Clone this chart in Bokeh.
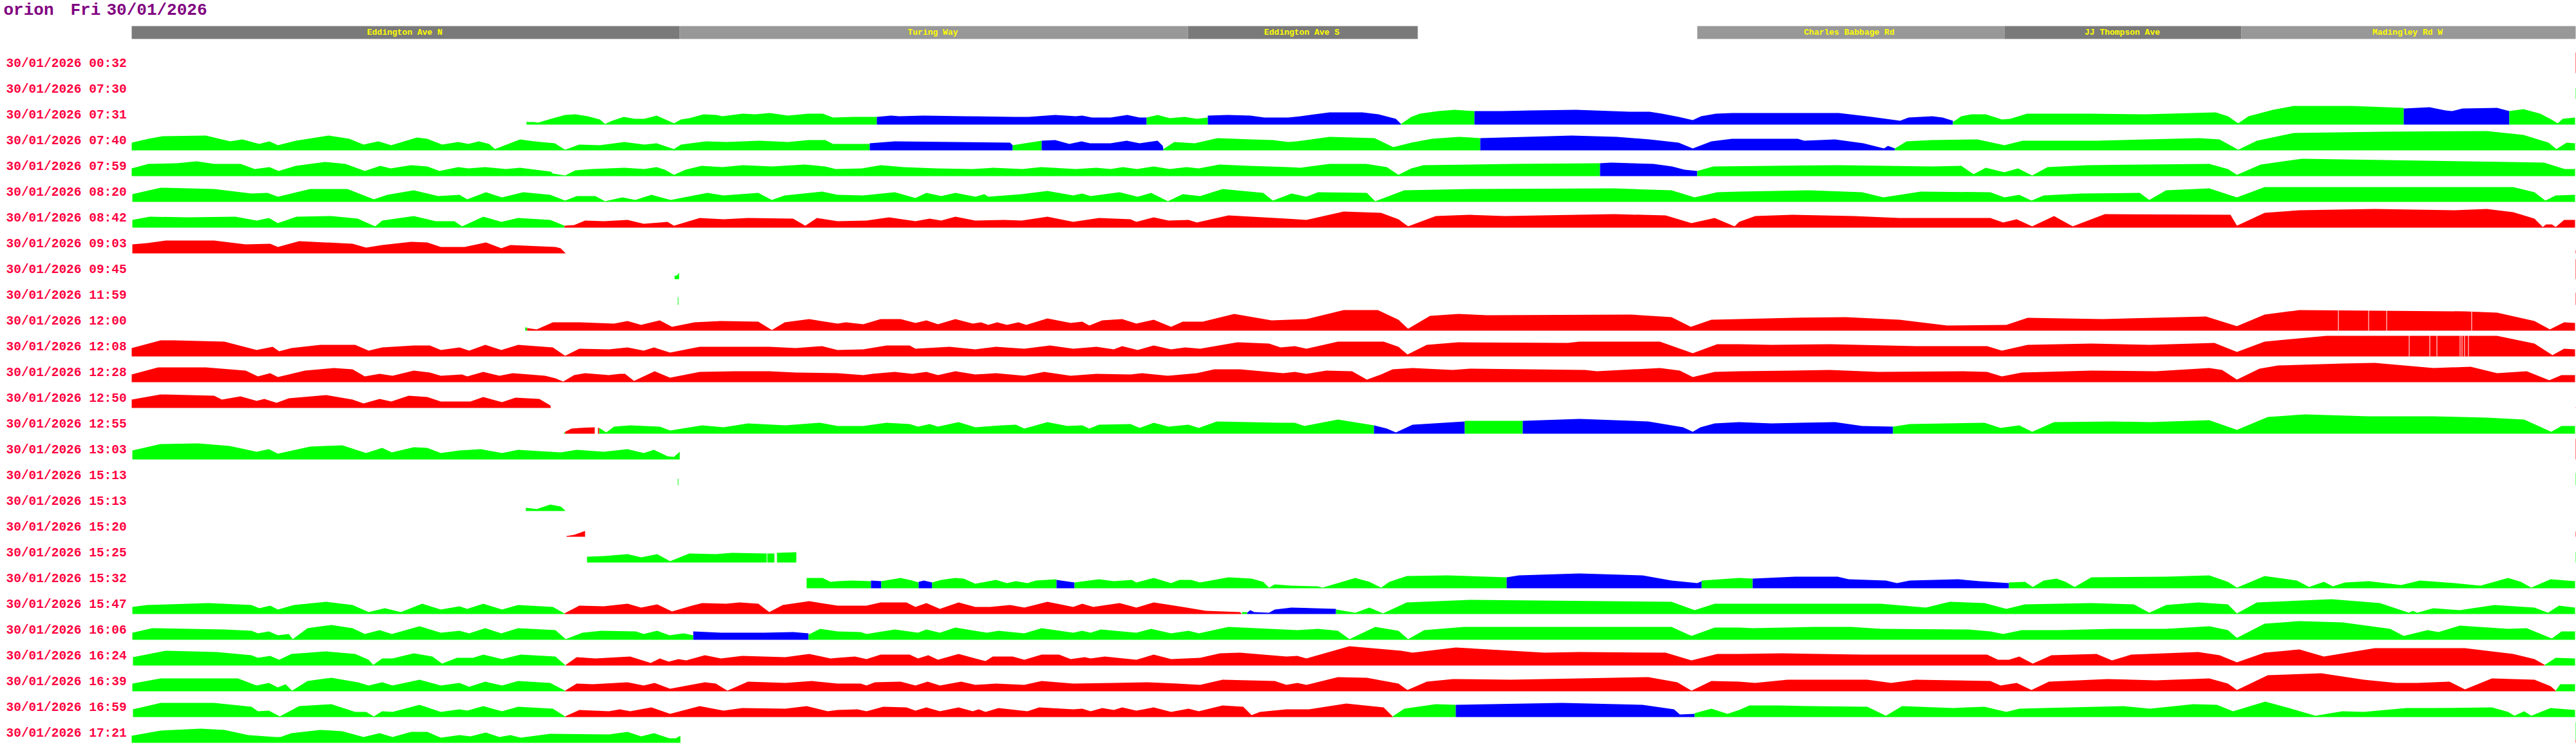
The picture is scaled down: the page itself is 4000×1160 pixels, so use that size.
from bokeh.plotting import figure
from bokeh.models import Range1d, ColumnDataSource
from bokeh.core.properties import value
from bokeh.embed import file_html
from bokeh.resources import INLINE

TITLE = [("orion", 5), ("Fri", 109), ("30/01/2026", 165)]

HEADER_BANDS = [
    (204, 1055, "d"), (1055, 1844, "l"), (1844, 2201, "d"),
    (2635, 3112, "l"), (3112, 3480, "d"), (3480, 3999, "l"),
]
HEADER_NAMES = [
    ("Eddington Ave N", 628), ("Turing Way", 1448), ("Eddington Ave S", 2021),
    ("Charles Babbage Rd", 2871), ("JJ Thompson Ave", 3295), ("Madingley Rd W", 3738),
]

G, R, B = "#00ff00", "#ff0000", "#0000ff"

ROW_0732 = [
    (G, [(817,4),(829,4),(835,3),(855,9),(877,15),(893,16),(912,13),(931,8),(939,1),(950,6),(968,12),(985,9),(1000,9),(1019,14),(1035,7),(1046,2),(1057,8),(1070,10),(1092,16),(1112,15),(1121,13),(1153,17),(1172,16),(1195,18),(1223,14),(1255,17),(1277,17),(1293,11),(1325,12),(1361,12)]),
    (B, [(1361,12),(1383,14),(1396,13),(1434,14),(1498,13),(1574,12),(1597,12),(1638,15),(1670,13),(1680,14),(1695,11),(1724,11),(1750,15),(1769,11),(1780,11)]),
    (G, [(1780,11),(1797,15),(1816,10),(1839,12),(1858,9),(1875,11)]),
    (B, [(1875,14),(1906,15),(1941,14),(1963,11),(2000,11),(2019,13),(2064,19),(2115,19),(2140,16),(2167,9),(2175,1)]),
    (G, [(2175,1),(2191,12),(2204,17),(2233,21),(2258,23),(2289,21)]),
    (B, [(2289,21),(2332,21),(2376,22),(2447,23),(2530,20),(2561,20),(2580,17),(2606,12),(2628,7),(2641,13),(2664,17),(2689,18),(2855,18),(2906,12),(2950,6),(2963,11),(3000,13),(3016,11),(3032,6)]),
    (G, [(3032,4),(3045,13),(3061,16),(3083,16),(3108,8),(3121,9),(3147,17),(3242,17),(3332,16),(3440,19),(3459,13),(3475,2),(3491,13),(3529,23),(3561,29),(3650,29),(3732,26)]),
    (B, [(3732,25),(3772,27),(3797,22),(3807,21),(3823,25),(3877,26),(3896,21)]),
    (G, [(3896,21),(3918,24),(3944,17),(3963,7),(3971,2),(3979,9),(3998,11)]),
]
ROW_0740 = [
    (G, [(204,12),(230,18),(252,22),(319,23),(357,14),(376,17),(402,10),(418,14),(431,8),(459,15),(510,23),(542,18),(564,9),(587,14),(607,8),(647,20),(663,18),(686,9),(711,13),(727,10),(743,14),(759,10),(768,2),(807,17),(829,14),(861,11),(877,1),(899,9),(931,8),(969,13),(1000,9),(1019,11),(1046,2),(1057,9),(1096,14),(1128,13),(1179,15),(1223,13),(1255,16),(1281,16),(1293,10),(1350,10)]),
    (B, [(1350,11),(1389,14),(1568,12),(1572,8)]),
    (G, [(1572,8),(1617,15)]),
    (B, [(1617,15),(1638,16),(1660,10),(1679,14),(1692,11),(1724,11),(1749,15),(1769,11),(1797,15),(1805,7),(1806,2)]),
    (G, [(1806,2),(1823,13),(1855,11),(1890,19),(1944,17),(1976,16),(2000,13),(2013,14),(2064,21),(2134,19),(2163,5),(2191,12),(2223,18),(2265,21),(2298,19)]),
    (B, [(2298,19),(2440,23),(2510,21),(2561,17),(2606,12),(2628,3),(2657,14),(2689,18),(2791,18),(2801,15),(2849,17),(2893,11),(2925,3),(2931,7),(2942,3)]),
    (G, [(2942,3),(2960,14),(3000,16),(3070,17),(3112,8),(3140,15),(3255,15),(3414,19),(3446,17),(3475,1),(3504,15),(3561,27),(3702,29),(3861,30),(3918,24),(3957,12),(3969,2),(3985,12),(3998,11)]),
]
ROW_0759 = [
    (G, [(204,12),(230,19),(274,20),(305,23),(332,19),(373,19),(395,11),(418,14),(432,8),(459,16),(504,22),(536,19),(566,8),(590,16),(606,12),(638,17),(663,15),(682,8),(711,14),(727,12),(753,14),(785,11),(807,13),(855,7),(858,4),(877,1),(893,9),(918,11),(969,13),(1000,11),(1019,14),(1032,10),(1046,2),(1064,10),(1089,16),(1121,14),(1153,17),(1198,15),(1249,18),(1281,15),(1297,11),(1338,12),(1367,17),(1402,14),(1453,12),(1510,11),(1542,13),(1587,11),(1616,14),(1670,11),(1702,13),(1724,11),(1743,14),(1765,11),(1791,15),(1816,11),(1842,14),(1861,12),(1893,18),(1938,16),(2000,14),(2019,13),(2064,19),(2121,19),(2153,14),(2171,2),(2191,12),(2210,17),(2351,19),(2484,20)]),
    (B, [(2484,20),(2501,21),(2567,19),(2596,15),(2615,10),(2635,8)]),
    (G, [(2635,8),(2660,15),(2752,16),(2855,17),(3000,15),(3045,16),(3064,3),(3083,13),(3112,6),(3133,12),(3155,1),(3179,14),(3242,17),(3332,18),(3430,19),(3459,11),(3473,2),(3510,18),(3574,27),(3893,22),(3950,21),(3982,11),(3998,11)]),
]
ROW_0820 = [
    (G, [(205,12),(249,22),(332,20),(390,13),(415,14),(431,8),(481,20),(539,20),(580,4),(601,11),(642,18),(680,9),(713,11),(725,4),(754,15),(779,7),(812,15),(854,11),(877,2),(895,9),(924,9),(939,1),(966,7),(986,3),(1011,11),(1041,3),(1098,14),(1123,10),(1177,14),(1198,3),(1218,10),(1276,16),(1300,11),(1340,10),(1389,15),(1421,6),(1438,14),(1461,9),(1483,14),(1514,8),(1528,12),(1534,8),(1586,12),(1626,17),(1666,10),(1680,13),(1693,9),(1738,15),(1766,8),(1787,14),(1813,1),(1836,12),(1863,9),(1898,20),(1961,14),(1976,2),(2005,13),(2028,8),(2046,15),(2122,14),(2135,1),(2180,18),(2282,20),(2506,21),(2595,18),(2631,7),(2666,15),(2700,16),(2808,18),(2891,15),(2924,7),(2982,16),(3090,15),(3112,7),(3135,11),(3154,2),(3173,10),(3231,13),(3322,14),(3337,3),(3363,18),(3430,21),(3473,7),(3516,23),(3902,23),(3935,15),(3952,2),(3968,10),(3998,11)]),
]
ROW_0842 = [
    (G, [(205,12),(232,17),(290,16),(365,17),(398,11),(417,15),(431,7),(460,17),(514,18),(555,14),(582,2),(593,11),(642,18),(676,10),(705,10),(717,2),(750,17),(778,9),(804,15),(854,12),(876,3)]),
    (R, [(876,3),(891,4),(908,11),(937,10),(974,12),(999,6),(1036,9),(1046,3),(1086,15),(1123,13),(1161,15),(1231,14),(1250,3),(1268,15),(1300,10),(1345,11),(1380,16),(1421,10),(1443,14),(1461,11),(1483,17),(1514,11),(1559,12),(1586,11),(1626,17),(1666,9),(1706,15),(1755,13),(1764,9),(1791,16),(1814,11),(1845,12),(1858,8),(1907,19),(1997,14),(2028,12),(2086,25),(2144,23),(2171,13),(2186,2),(2229,18),(2282,20),(2336,18),(2506,21),(2586,19),(2626,7),(2662,15),(2693,2),(2700,9),(2725,18),(2783,20),(2878,18),(2949,15),(3090,15),(3110,8),(3131,13),(3155,2),(3189,18),(3218,2),(3268,21),(3463,20),(3473,3),(3516,23),(3570,27),(3687,29),(3811,27),(3861,29),(3902,24),(3935,14),(3948,1),(3953,5),(3962,5),(3968,1),(3981,12),(3998,12)]),
]
ROW_0903 = [
    (R, [(205,14),(228,16),(257,20),(332,20),(381,14),(419,15),(431,10),(464,19),(547,15),(568,9),(593,13),(638,18),(663,17),(684,10),(721,10),(754,17),(778,8),(792,13),(862,10),(870,8),(878,0)]),
]
ROW_0945 = [(G, [(1047,5),(1051,6),(1054,10)])]
ROW_1159 = [(G, [(1052,12),(1053,12)])]
ROW_1200 = [
    (G, [(815,5),(818,5)]),
    (R, [(818,4),(833,2),(858,13),(900,13),(953,11),(974,15),(995,9),(1024,16),(1043,6),(1078,13),(1119,15),(1177,14),(1198,1),(1218,13),(1256,18),(1300,11),(1313,13),(1340,10),(1367,18),(1398,18),(1421,12),(1438,16),(1456,10),(1483,18),(1510,11),(1523,13),(1534,9),(1548,13),(1563,9),(1581,13),(1593,9),(1626,19),(1662,12),(1680,14),(1691,8),(1711,16),(1742,18),(1764,11),(1791,17),(1818,6),(1836,14),(1867,14),(1916,26),(1974,16),(2028,18),(2086,32),(2139,32),(2171,17),(2186,3),(2220,23),(2264,26),(2309,24),(2532,25),(2595,21),(2625,6),(2657,17),(2700,18),(2783,20),(2866,21),(2949,17),(3023,8),(3115,9),(3148,20),(3264,18),(3425,22),(3473,7),(3516,25),(3570,32),(3827,30),(3877,28),(3935,15),(3959,2),(3981,13),(3998,12)]),
]
ROW_1208 = [
    (R, [(204,13),(249,25),(269,25),(348,23),(398,10),(423,15),(433,8),(452,13),(497,18),(551,18),(572,9),(593,14),(642,17),(667,17),(684,10),(713,14),(728,9),(753,18),(778,10),(804,18),(858,14),(877,1),(899,12),(945,11),(974,14),(999,9),(1015,14),(1040,6),(1086,15),(1194,15),(1235,13),(1276,16),(1300,10),(1340,11),(1376,17),(1412,17),(1421,12),(1474,15),(1514,11),(1546,15),(1590,12),(1630,17),(1666,12),(1702,15),(1729,11),(1742,16),(1766,10),(1791,17),(1818,11),(1840,14),(1863,12),(1921,22),(1970,20),(1988,14),(2010,16),(2028,12),(2077,23),(2148,23),(2171,15),(2185,3),(2215,18),(2264,22),(2434,21),(2452,23),(2577,23),(2628,5),(2666,19),(2700,19),(2750,18),(2841,19),(2974,16),(3085,16),(3108,9),(3148,18),(3247,20),(3338,18),(3438,21),(3473,7),(3516,23),(3612,32),(3877,32),(3935,20),(3963,2),(3981,12),(3998,11)]),
]
ROW_1228 = [
    (R, [(204,12),(245,23),(319,23),(381,18),(400,9),(419,14),(431,8),(473,18),(518,22),(547,20),(566,9),(589,13),(609,10),(642,18),(667,15),(684,10),(717,12),(725,9),(750,16),(775,10),(796,14),(846,10),(862,6),(874,1),(891,11),(908,14),(945,11),(962,13),(970,13),(984,2),(1016,17),(1040,7),(1086,16),(1140,17),(1194,17),(1235,15),(1300,14),(1340,11),(1354,13),(1389,16),(1416,13),(1438,16),(1456,11),(1483,17),(1514,12),(1546,14),(1590,10),(1621,16),(1662,10),(1702,13),(1755,12),(1773,14),(1813,10),(1858,14),(1885,20),(1925,20),(1992,14),(2010,16),(2028,13),(2059,18),(2099,17),(2122,4),(2144,12),(2162,20),(2193,22),(2255,19),(2282,21),(2461,19),(2479,17),(2577,22),(2608,18),(2628,8),(2662,16),(2700,17),(2783,18),(2841,19),(2916,16),(3048,17),(3085,16),(3108,9),(3139,15),(3247,18),(3347,17),(3430,22),(3450,19),(3473,4),(3508,21),(3537,26),(3637,29),(3687,30),(3778,22),(3836,24),(3877,14),(3923,17),(3958,3),(3977,11),(3998,11)]),
]
ROW_1250 = [
    (R, [(204,13),(249,21),(332,19),(344,13),(373,18),(398,11),(410,14),(429,8),(448,15),(506,20),(547,13),(564,7),(589,14),(607,10),(634,19),(663,17),(684,10),(730,10),(750,17),(779,9),(800,16),(837,14),(854,4),(855,0)]),
]
ROW_1255 = [
    (G, [(875,1),(877,3)]),
    (R, [(877,3),(887,8),(900,9),(923,10)]),
    (R, [(928,9),(930,9)]),
    (G, [(930,9),(941,2),(953,11),(978,13),(1024,11),(1040,5),(1090,13),(1123,10),(1161,16),(1219,13),(1273,17),(1300,12),(1340,12),(1376,17),(1412,15),(1425,11),(1443,15),(1456,11),(1488,18),(1514,10),(1555,13),(1577,14),(1590,8),(1626,18),(1657,12),(1680,13),(1691,8),(1706,14),(1755,15),(1769,9),(1791,17),(1814,11),(1845,14),(1861,9),(1889,19),(1988,17),(2010,17),(2025,12),(2077,22),(2133,13)]),
    (B, [(2133,13),(2153,8),(2167,2),(2193,14),(2274,19)]),
    (G, [(2274,20),(2364,20)]),
    (B, [(2364,20),(2452,23),(2559,19),(2613,10),(2628,3),(2640,10),(2662,16),(2700,18),(2750,16),(2849,18),(2891,12),(2939,11)]),
    (G, [(2939,11),(2965,15),(3081,17),(3106,9),(3135,13),(3155,3),(3189,18),(3280,19),(3338,18),(3430,21),(3473,6),(3521,26),(3579,30),(3678,27),(3778,27),(3861,25),(3919,22),(3961,3),(3977,12),(3998,12)]),
]
ROW_1303 = [
    (G, [(205,14),(249,24),(307,25),(356,21),(398,12),(417,16),(431,9),(481,20),(531,22),(568,10),(593,18),(608,11),(642,19),(663,18),(684,10),(713,14),(746,16),(779,10),(804,15),(870,11),(895,15),(937,12),(974,16),(999,10),(1015,15),(1036,5),(1046,4),(1055,12)]),
]
ROW_1513A = [(G, [(1052,10),(1053,10)])]
ROW_1513B = [(G, [(816,5),(833,3),(854,10),(870,7),(877,1)])]
ROW_1520 = [(R, [(879,1),(891,3),(908,9)])]
ROW_1525 = [
    (G, [(911,9),(937,10),(974,13),(995,8),(1020,13),(1040,2),(1070,14),(1111,13),(1136,15),(1190,14)]),
    (G, [(1191,14),(1202,14)]),
    (G, [(1206,15),(1236,16)]),
]
ROW_1532 = [
    (G, [(1252,16),(1277,16),(1289,10),(1300,11),(1322,12),(1352,11)]),
    (B, [(1352,12),(1368,11)]),
    (G, [(1368,11),(1398,16),(1416,12),(1426,9)]),
    (B, [(1426,10),(1434,12),(1447,9)]),
    (G, [(1447,9),(1461,13),(1483,16),(1496,15),(1514,7),(1546,13),(1563,8),(1577,11),(1595,8),(1608,12),(1640,14)]),
    (B, [(1640,13),(1668,9)]),
    (G, [(1668,9),(1706,14),(1729,11),(1757,13),(1764,9),(1791,16),(1818,8),(1831,13),(1849,13),(1863,9),(1907,17),(1943,15),(1961,10),(1970,1),(1979,6),(2005,4),(2046,3),(2053,1),(2104,16),(2126,10),(2144,1),(2157,10),(2184,19),(2247,20),(2339,17)]),
    (B, [(2339,17),(2358,20),(2452,23),(2550,20),(2595,12),(2635,8),(2642,11)]),
    (G, [(2642,12),(2700,16),(2721,15)]),
    (B, [(2721,15),(2787,18),(2853,18),(2870,14),(2928,12),(2945,8),(2965,12),(3040,14),(3073,11),(3119,8)]),
    (G, [(3119,9),(3144,10),(3156,2),(3173,12),(3193,15),(3207,10),(3221,2),(3247,17),(3363,18),(3430,20),(3459,10),(3473,1),(3516,19),(3566,12),(3585,2),(3608,10),(3622,3),(3641,9),(3678,11),(3728,5),(3757,12),(3811,8),(3851,4),(3894,16),(3914,10),(3930,1),(3960,14),(3998,11)]),
]
ROW_1547 = [
    (G, [(205,11),(228,14),(323,17),(390,14),(402,9),(419,13),(431,7),(456,14),(506,19),(547,14),(572,3),(597,9),(622,3),(655,16),(684,7),(713,12),(725,8),(750,16),(779,7),(804,14),(858,11),(876,1)]),
    (R, [(876,1),(899,13),(937,12),(974,16),(995,10),(1020,15),(1043,4),(1074,13),(1090,17),(1127,16),(1148,18),(1177,16),(1194,3),(1215,14),(1256,20),(1300,13),(1345,13),(1367,18),(1407,18),(1421,11),(1438,17),(1459,8),(1488,18),(1514,11),(1537,11),(1568,14),(1590,10),(1626,19),(1666,11),(1680,16),(1697,11),(1738,17),(1764,10),(1791,18),(1836,11),(1872,5),(1925,3),(1928,0)]),
    (G, [(1928,3),(1936,3)]),
    (B, [(1936,2),(1941,6),(1947,3),(1970,2),(1979,7),(2005,10),(2074,8)]),
    (G, [(2074,7),(2104,2),(2126,10),(2147,1),(2184,18),(2282,22),(2595,19),(2631,6),(2662,16),(2700,16),(2920,16),(2990,10),(3027,19),(3081,17),(3115,8),(3144,15),(3247,17),(3313,15),(3337,2),(3363,14),(3413,18),(3459,15),(3473,1),(3504,18),(3620,23),(3695,17),(3740,2),(3746,5),(3753,2),(3778,9),(3819,6),(3873,14),(3935,10),(3956,2),(3973,13),(3998,10)]),
]
ROW_1606 = [
    (G, [(205,11),(236,18),(348,16),(390,14),(400,10),(417,13),(431,7),(448,9),(454,1),(477,18),(514,23),(547,18),(566,9),(589,15),(608,9),(651,21),(684,11),(713,14),(728,10),(753,18),(778,10),(804,18),(862,15),(870,8),(878,1),(904,11),(933,14),(987,13),(999,9),(1020,14),(1039,7),(1061,10),(1076,7)]),
    (B, [(1076,13),(1119,11),(1186,11),(1231,12),(1255,10)]),
    (G, [(1255,8),(1273,17),(1300,13),(1336,12),(1345,9),(1389,16),(1425,11),(1438,16),(1459,11),(1483,19),(1532,11),(1550,14),(1590,10),(1617,18),(1666,11),(1680,14),(1693,11),(1709,16),(1764,11),(1787,17),(1818,10),(1845,14),(1861,10),(1907,20),(2014,15),(2046,17),(2077,14),(2095,1),(2135,20),(2171,14),(2186,1),(2211,15),(2273,20),(2595,20),(2626,6),(2662,19),(2700,19),(2721,18),(2816,20),(2874,20),(2920,17),(3056,16),(3090,13),(3110,9),(3139,15),(3197,15),(3280,17),(3363,17),(3430,21),(3459,15),(3473,3),(3516,25),(3570,29),(3637,27),(3711,17),(3732,6),(3769,15),(3786,12),(3819,22),(3894,17),(3923,18),(3962,2),(3977,13),(3998,13)]),
]
ROW_1624 = [
    (G, [(206,13),(257,23),(336,21),(390,16),(400,12),(419,15),(433,9),(452,18),(506,22),(551,18),(572,9),(579,1),(593,11),(609,11),(642,19),(671,14),(686,3),(709,12),(734,12),(750,17),(779,10),(808,17),(862,14),(878,0)]),
    (R, [(878,1),(895,13),(924,11),(978,14),(1010,4),(1024,11),(1038,6),(1053,10),(1065,8),(1094,16),(1119,11),(1152,15),(1219,13),(1256,18),(1289,11),(1300,12),(1327,14),(1345,10),(1367,17),(1412,17),(1425,11),(1441,16),(1456,9),(1488,18),(1514,11),(1530,7),(1541,14),(1572,14),(1590,9),(1617,17),(1644,17),(1662,10),(1684,13),(1693,11),(1715,14),(1764,9),(1791,17),(1818,10),(1863,12),(1894,19),(1925,20),(1997,14),(2014,15),(2028,11),(2095,30),(2175,23),(2193,20),(2260,28),(2398,20),(2452,21),(2586,20),(2626,8),(2666,18),(2700,18),(2766,19),(2891,17),(2982,17),(3085,17),(3102,9),(3119,9),(3135,14),(3156,3),(3185,16),(3255,18),(3279,8),(3309,17),(3413,21),(3446,16),(3473,5),(3516,20),(3570,25),(3608,14),(3687,27),(3827,27),(3902,18),(3935,10),(3951,1)]),
    (G, [(3951,1),(3968,12),(3998,11)]),
]
ROW_1639 = [
    (G, [(205,12),(249,20),(369,20),(398,9),(417,13),(431,6),(443,11),(453,1),(477,16),(514,21),(555,14),(572,9),(593,14),(609,9),(651,18),(684,9),(713,13),(728,7),(753,15),(779,9),(804,16),(854,13),(877,1)]),
    (R, [(877,1),(895,12),(920,11),(974,14),(999,9),(1016,13),(1040,4),(1094,14),(1111,12),(1129,1),(1161,15),(1219,13),(1260,16),(1300,12),(1336,12),(1345,9),(1358,14),(1398,15),(1421,9),(1440,15),(1459,9),(1492,15),(1514,10),(1546,12),(1590,10),(1617,16),(1666,12),(1729,13),(1782,14),(1827,12),(1863,10),(1898,18),(1979,16),(1997,10),(2014,13),(2028,10),(2077,22),(2122,21),(2171,12),(2185,2),(2215,15),(2256,19),(2345,18),(2452,20),(2559,22),(2604,14),(2626,1),(2657,16),(2700,15),(2725,13),(2775,18),(2899,18),(2936,13),(2974,18),(3090,16),(3106,9),(3131,13),(3154,2),(3181,15),(3272,19),(3347,17),(3430,20),(3459,12),(3473,2),(3521,25),(3604,28),(3670,18),(3720,13),(3753,13),(3803,15),(3827,3),(3869,20),(3935,18),(3960,8),(3968,1)]),
    (G, [(3968,1),(3975,11),(3998,11)]),
]
ROW_1659 = [
    (G, [(206,12),(249,22),(332,22),(390,16),(400,9),(417,10),(434,1),(464,17),(514,20),(551,8),(568,8),(580,1),(593,9),(609,8),(651,19),(684,8),(713,12),(725,10),(750,17),(779,9),(804,16),(858,13),(877,1)]),
    (R, [(877,1),(899,11),(945,9),(962,12),(978,9),(1011,15),(1040,5),(1086,17),(1123,10),(1152,14),(1219,13),(1252,17),(1285,9),(1300,11),(1331,12),(1345,9),(1371,16),(1407,15),(1421,10),(1438,15),(1459,9),(1488,15),(1510,9),(1519,12),(1530,8),(1550,14),(1595,9),(1613,15),(1666,12),(1680,13),(1693,9),(1711,14),(1729,11),(1742,15),(1764,10),(1791,15),(1818,8),(1845,13),(1861,9),(1898,18),(1930,16),(1943,3),(1956,8),(1997,12),(2032,12),(2090,21),(2148,15),(2162,1)]),
    (G, [(2162,1),(2180,13),(2229,20),(2260,19)]),
    (B, [(2260,19),(2425,22),(2550,19),(2599,12),(2608,4),(2631,5)]),
    (G, [(2631,6),(2657,13),(2682,5),(2700,11),(2716,18),(2762,18),(2812,17),(2899,16),(2928,2),(2953,17),(3032,14),(3081,16),(3115,8),(3135,13),(3173,14),(3297,17),(3338,13),(3405,20),(3442,19),(3467,9),(3517,24),(3554,14),(3595,2),(3637,9),(3670,8),(3736,14),(3778,14),(3869,15),(3894,8),(3904,2),(3919,9),(3930,2),(3960,14),(3998,11)]),
]
ROW_1721 = [
    (G, [(204,11),(249,19),(311,22),(348,20),(385,12),(427,9),(435,9),(452,15),(497,20),(531,18),(564,9),(589,15),(609,9),(638,17),(663,17),(684,8),(713,12),(730,10),(754,16),(775,9),(792,12),(808,8),(854,14),(945,13),(974,17),(995,10),(1015,15),(1039,7),(1049,7),(1056,11)]),
]

ROWS = [
    ("30/01/2026 00:32", []), ("30/01/2026 07:30", []), ("30/01/2026 07:31", ROW_0732),
    ("30/01/2026 07:40", ROW_0740), ("30/01/2026 07:59", ROW_0759), ("30/01/2026 08:20", ROW_0820),
    ("30/01/2026 08:42", ROW_0842), ("30/01/2026 09:03", ROW_0903), ("30/01/2026 09:45", ROW_0945),
    ("30/01/2026 11:59", ROW_1159), ("30/01/2026 12:00", ROW_1200), ("30/01/2026 12:08", ROW_1208),
    ("30/01/2026 12:28", ROW_1228), ("30/01/2026 12:50", ROW_1250), ("30/01/2026 12:55", ROW_1255),
    ("30/01/2026 13:03", ROW_1303), ("30/01/2026 15:13", ROW_1513A), ("30/01/2026 15:13", ROW_1513B),
    ("30/01/2026 15:20", ROW_1520), ("30/01/2026 15:25", ROW_1525), ("30/01/2026 15:32", ROW_1532),
    ("30/01/2026 15:47", ROW_1547), ("30/01/2026 16:06", ROW_1606), ("30/01/2026 16:24", ROW_1624),
    ("30/01/2026 16:39", ROW_1639), ("30/01/2026 16:59", ROW_1659), ("30/01/2026 17:21", ROW_1721),
]

GAPS_1200 = [3630, 3677, 3705, 3837]
GAPS_1208 = [3740, 3772, 3783, 3819, 3822, 3826, 3832]
EDGE = [(0, R, 0, 32), (1, G, 0, 17), (7, R, 0, 5), (8, R, 0, 31), (9, R, 0, 19),
        (13, R, 0, 1), (15, R, 0, 32), (16, G, 0, 19), (18, R, 0, 8), (19, G, 0, 16),
        (26, R, 0, 5), (26, G, 5, 32)]

ROW0_BASE, ROW_STEP = 113, 40
HEADER_TOP, HEADER_BOTTOM = 40, 60
DARK, LIGHT = "#7a7a7a", "#989898"


def base(i):
    return ROW0_BASE + ROW_STEP * i


p = figure(width=4000, height=1160, output_backend="svg", toolbar_location=None,
           x_range=Range1d(0, 4000), y_range=Range1d(1160, 0), min_border=0,
           background_fill_color="white", border_fill_color="white")
p.axis.visible = False
p.grid.visible = False
p.outline_line_color = None

for left, right, kind in HEADER_BANDS:
    p.quad(left=left, right=right, top=HEADER_TOP, bottom=HEADER_BOTTOM,
           fill_color=DARK if kind == "d" else LIGHT, line_color=None)
for name, cx in HEADER_NAMES:
    p.text([cx], [50], text=[name], text_color="#ffff00", text_font=value("Liberation Mono"),
           text_font_size="13px", text_font_style="bold", text_align="center", text_baseline="middle")
for word, x in TITLE:
    p.text([x], [15], text=[word], text_color="#800080", text_font=value("Liberation Mono"),
           text_font_size="26px", text_font_style="bold", text_align="left", text_baseline="middle")

for i, (label, segments) in enumerate(ROWS):
    b = base(i)
    p.text([9], [b - 15], text=[label], text_color="#ff0040", text_font=value("Liberation Mono"),
           text_font_size="19.5px", text_font_style="bold", text_align="left", text_baseline="middle")
    for color, pts in segments:
        xs = [q[0] for q in pts]
        hs = [b - q[1] for q in pts]
        src = ColumnDataSource(dict(x=xs, y1=[b] * len(xs), y2=hs))
        p.varea(x="x", y1="y1", y2="y2", source=src, fill_color=color)

for idx, gaps in ((10, GAPS_1200), (11, GAPS_1208)):
    b = base(idx)
    p.quad(left=gaps, right=[g + 1 for g in gaps], top=[b - 34] * len(gaps), bottom=[b] * len(gaps),
           fill_color="white", line_color=None)

for idx, color, lo, hi in EDGE:
    b = base(idx)
    p.quad(left=3999, right=4000, top=b - hi, bottom=b - lo, fill_color=color, line_color=None)

open("out.html", "w").write(file_html(p, INLINE))
